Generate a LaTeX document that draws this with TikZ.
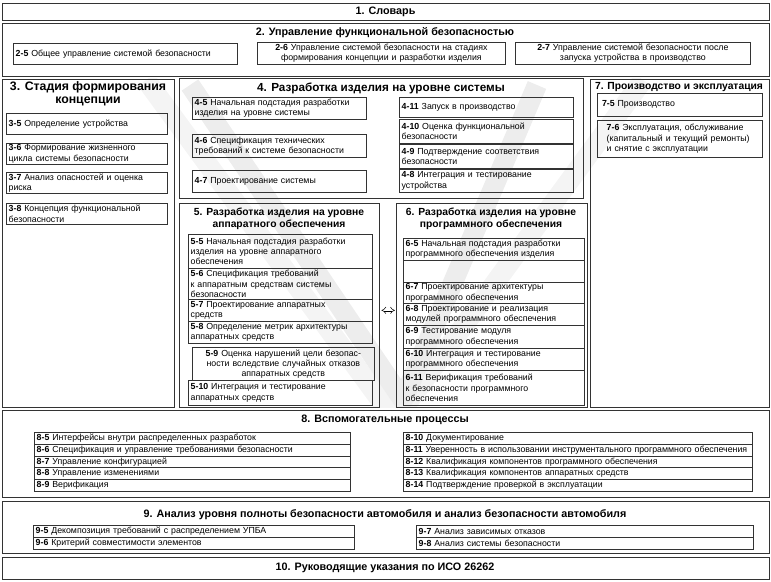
\documentclass[tikz,border=0pt]{standalone}
\usepackage{fontspec}
\setmainfont{Liberation Sans}
\usetikzlibrary{arrows.meta}
\newcommand{\secno}[1]{\textbf{#1}}
\tikzset{
  wh/.style 2 args={minimum width=#1*0.3mm,minimum height=#2*0.3mm,
                    text width=#1*0.3mm-4pt},
  BX/.style={draw=black!80,line width=1.1pt,anchor=north west,inner sep=0pt},
  IT/.style={draw=black!80,line width=0.6pt,anchor=north west,
             inner xsep=2pt,inner ysep=0pt,align=left,
             font=\fontsize{7.5}{8.7}\selectfont},
  IC/.style={IT,align=center},
  TT/.style={inner sep=0pt,align=center,font=\bfseries\fontsize{9.2}{10.5}\selectfont},
  TL/.style={TT,font=\bfseries\fontsize{10.5}{11.5}\selectfont},
  TS/.style={TT,font=\bfseries\fontsize{8.8}{10.2}\selectfont},
  dbl/.style={double,double distance=1.6pt,line width=0.45pt,{Implies}-{Implies}},
  VW/.style={line width=6mm,line join=round}
}

\begin{document}
\begin{tikzpicture}[x=0.3mm,y=-0.3mm]
  \useasboundingbox (0,0) rectangle (771,581);

  \begin{scope}
    \clip (2,78) rectangle (769,407);
    \draw[VW,gray!9] (146,80) -- (395,420) -- (643,80);
    \draw[VW,gray!14] (190,85) -- (403,400) -- (537,85);
  \end{scope}

  \node[BX,wh={767}{17}] (b1) at (2,3) {};
  \node[TT] (t1) at (385.5,11.5) {1. Словарь};

  \node[BX,wh={767}{53}] (b2) at (2,23) {};
  \node[TT] (t2) at (385,33) {2. Управление функциональной безопасностью};
  \node[IT,wh={224}{21}] (i25) at (13,43) {\secno{2-5} Общее управление системой безопасности};
  \node[IC,wh={248}{22}] (i26) at (257,42) {\secno{2-6} Управление системой безопасности на стадиях\\формирования концепции и разработки изделия};
  \node[IC,wh={235}{22}] (i27) at (515,42) {\secno{2-7} Управление системой безопасности после\\запуска устройства в производство};

  \node[BX,wh={172}{328}] (b3) at (2,79) {};
  \node[TL] (t3) at (88,94) {3. Стадия формирования\\концепции};
  \node[IT,wh={161}{21}] (i35) at (6,113) {\secno{3-5} Определение устройства};
  \node[IT,wh={161}{21}] (i36) at (6,143) {\secno{3-6} Формирование жизненного\\цикла системы безопасности};
  \node[IT,wh={161}{21}] (i37) at (6,172) {\secno{3-7} Анализ опасностей и оценка\\риска};
  \node[IT,wh={161}{21}] (i38) at (6,203) {\secno{3-8} Концепция функциональной\\безопасности};

  \node[BX,wh={404}{120}] (b4) at (179,78) {};
  \node[TT,font=\bfseries\fontsize{10}{11}\selectfont] (t4) at (381,88) {4. Разработка изделия на уровне системы};
  \node[IT,wh={174}{22}] (i45) at (192,97) {\secno{4-5} Начальная подстадия разработки\\изделия на уровне системы};
  \node[IT,wh={174}{23}] (i46) at (192,134) {\secno{4-6} Спецификация технических\\требований к системе безопасности};
  \node[IT,wh={174}{22}] (i47) at (192,170) {\secno{4-7} Проектирование системы};
  \node[IT,wh={174}{20}] (i411) at (399,97) {\secno{4-11} Запуск в производство};
  \node[IT,wh={174}{24}] (i410) at (399,119) {\secno{4-10} Оценка функциональной\\безопасности};
  \node[IT,wh={174}{24}] (i49) at (399,144) {\secno{4-9} Подтверждение соответствия\\безопасности};
  \node[IT,wh={174}{23}] (i48) at (399,169) {\secno{4-8} Интеграция и тестирование\\устройства};

  \node[BX,wh={179}{328}] (b7) at (590,79) {};
  \node[TS] (t7) at (679,87) {7. Производство и эксплуатация};
  \node[IT,wh={165}{23},inner xsep=4pt,text width=165*0.3mm-8pt] (i75) at (597,93) {\secno{7-5} Производство};
  \node[IT,wh={165}{37},inner xsep=8pt,text width=165*0.3mm-16pt] (i76) at (597,120) {\secno{7-6} Эксплуатация, обслуживание\\(капитальный и текущий ремонты)\\и снятие с эксплуатации};

  \node[BX,wh={200}{204}] (b5) at (179,203) {};
  \node[TS] (t5) at (279,219) {5. Разработка изделия на уровне\\аппаратного обеспечения};
  \node[IT,wh={184}{34}] (i55) at (188,234) {\secno{5-5} Начальная подстадия разработки\\изделия на уровне аппаратного\\обеспечения};
  \node[IT,wh={184}{31}] (i56) at (188,268) {\secno{5-6} Спецификация требований\\к аппаратным средствам системы\\безопасности};
  \node[IT,wh={184}{22}] (i57) at (188,299) {\secno{5-7} Проектирование аппаратных\\средств};
  \node[IT,wh={184}{22}] (i58) at (188,321) {\secno{5-8} Определение метрик архитектуры\\аппаратных средств};
  \node[IC,wh={182}{33}] (i59) at (192,347) {\secno{5-9} Оценка нарушений цели безопас-\\ности вследствие случайных отказов\\аппаратных средств};
  \node[IT,wh={184}{25}] (i510) at (188,380) {\secno{5-10} Интеграция и тестирование\\аппаратных средств};

  \node[BX,wh={191}{204}] (b6) at (396,203) {};
  \node[TS] (t6) at (491,219) {6. Разработка изделия на уровне\\программного обеспечения};
  \node[IT,wh={181}{22}] (i65) at (403,238) {\secno{6-5} Начальная подстадия разработки\\программного обеспечения изделия};
  \node[IT,wh={181}{22}] (i66) at (403,260) {};
  \node[IT,wh={181}{21}] (i67) at (403,282) {\secno{6-7} Проектирование архитектуры\\программного обеспечения};
  \node[IT,wh={181}{22}] (i68) at (403,303) {\secno{6-8} Проектирование и реализация\\модулей программного обеспечения};
  \node[IT,wh={181}{23}] (i69) at (403,325) {\secno{6-9} Тестирование модуля\\программного обеспечения};
  \node[IT,wh={181}{22}] (i610) at (403,348) {\secno{6-10} Интеграция и тестирование\\программного обеспечения};
  \node[IT,wh={181}{35}] (i611) at (403,370) {\secno{6-11} Верификация требований\\к безопасности программного\\обеспечения};

  \draw[dbl,shorten <=1pt,shorten >=1pt] (b5.east |- i57) -- (b6.west |- i57);

  \node[BX,wh={767}{87}] (b8) at (2,410) {};
  \node[TT] (t8) at (385,420) {8. Вспомогательные процессы};
  \node[IT,wh={316}{11.8}] (i85) at (34,432) {\secno{8-5} Интерфейсы внутри распределенных разработок};
  \node[IT,wh={316}{11.8}] (i86) at (34,443.8) {\secno{8-6} Спецификация и управление требованиями безопасности};
  \node[IT,wh={316}{11.8}] (i87) at (34,455.6) {\secno{8-7} Управление конфигурацией};
  \node[IT,wh={316}{11.8}] (i88) at (34,467.4) {\secno{8-8} Управление изменениями};
  \node[IT,wh={316}{11.8}] (i89) at (34,479.2) {\secno{8-9} Верификация};
  \node[IT,wh={349}{11.8}] (i810) at (403,432) {\secno{8-10} Документирование};
  \node[IT,wh={349}{11.8}] (i811) at (403,443.8) {\secno{8-11} Уверенность в использовании инструментального программного обеспечения};
  \node[IT,wh={349}{11.8}] (i812) at (403,455.6) {\secno{8-12} Квалификация компонентов программного обеспечения};
  \node[IT,wh={349}{11.8}] (i813) at (403,467.4) {\secno{8-13} Квалификация компонентов аппаратных средств};
  \node[IT,wh={349}{11.8}] (i814) at (403,479.2) {\secno{8-14} Подтверждение проверкой в эксплуатации};

  \node[BX,wh={767}{52}] (b9) at (2,501) {};
  \node[TT] (t9) at (385,515) {9. Анализ уровня полноты безопасности автомобиля и анализ безопасности автомобиля};
  \node[IT,wh={321}{12}] (i95) at (33,525) {\secno{9-5} Декомпозиция требований с распределением УПБА};
  \node[IT,wh={321}{12}] (i96) at (33,537) {\secno{9-6} Критерий совместимости элементов};
  \node[IT,wh={337}{12}] (i97) at (416,525) {\secno{9-7} Анализ зависимых отказов};
  \node[IT,wh={337}{12}] (i98) at (416,537) {\secno{9-8} Анализ системы безопасности};

  \node[BX,wh={767}{22}] (b10) at (2,557) {};
  \node[TT] (t10) at (385,568) {10. Руководящие указания по ИСО 26262};
\end{tikzpicture}
\end{document}
